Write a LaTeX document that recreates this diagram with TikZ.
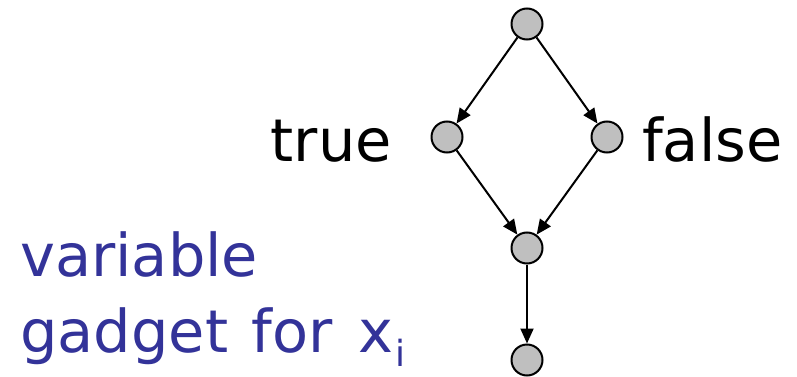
\documentclass[tikz,border=0pt]{standalone}
\usepackage{fontspec}
\setmainfont{DejaVu Sans}
\usetikzlibrary{arrows.meta}
\definecolor{gadgetblue}{RGB}{51,51,153}
\begin{document}
\begin{tikzpicture}[x=1pt,y=-1pt,
  vtx/.style={circle,draw=black,fill=black!25,line width=2pt,minimum size=31pt,inner sep=0pt},
  arr/.style={-{Triangle[length=15pt,width=13pt]},line width=2pt},
  lbl/.style={font=\fontsize{59}{66}\selectfont,inner sep=0pt}]
\useasboundingbox (0,0) rectangle (797,377);
\node[vtx] (t) at (527,24) {};
\node[vtx] (l) at (447,137) {};
\node[vtx] (r) at (607,137) {};
\node[vtx] (m) at (527,248) {};
\node[vtx] (b) at (527,360) {};
\draw[arr] (t) -- (l);
\draw[arr] (t) -- (r);
\draw[arr] (l) -- (m);
\draw[arr] (r) -- (m);
\draw[arr] (m) -- (b);
\node[lbl,anchor=base east] (tl) at (392,161) {true};
\node[lbl,anchor=base west] (fl) at (642,161) {false};
\node[lbl,anchor=base west,text=gadgetblue] (v1) at (20,276) {variable};
\node[lbl,anchor=base west,text=gadgetblue] (v2) at (20,352) {gadget\hspace{5pt} for\hspace{7pt} x\hspace{2pt}{\fontsize{36}{40}\selectfont\raisebox{-14pt}{i}}};
\end{tikzpicture}
\end{document}
